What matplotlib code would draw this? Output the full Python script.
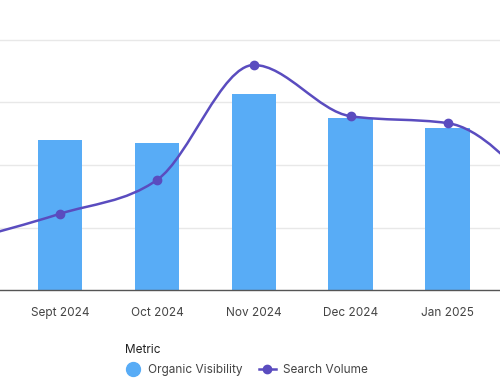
import numpy as np
import matplotlib.pyplot as plt
from matplotlib.path import Path
from matplotlib.patches import PathPatch
from matplotlib.lines import Line2D

plt.rcParams['font.family'] = ['Inter', 'DejaVu Sans']

# --- data (chart is a cropped view, Aug and Feb sit just off-screen) ---
months = ['Aug 2024', 'Sept 2024', 'Oct 2024', 'Nov 2024', 'Dec 2024', 'Jan 2025', 'Feb 2025']
organic_visibility = [2.2, 2.4, 2.35, 3.14, 2.75, 2.59, 2.3]
search_volume = [0.78, 1.22, 1.76, 3.6, 2.78, 2.67, 1.45]

bar_color = '#58acf6'
line_color = '#5a4cbf'


def monotone_path(x, y):
    # cubic bezier path with monotone tangents (like d3 curveMonotoneX)
    x = np.asarray(x, float)
    y = np.asarray(y, float)
    h = np.diff(x)
    s = np.diff(y) / h
    t = np.zeros(len(x))
    for i in range(1, len(x) - 1):
        p = (s[i - 1] * h[i] + s[i] * h[i - 1]) / (h[i - 1] + h[i])
        t[i] = (np.sign(s[i - 1]) + np.sign(s[i])) * min(abs(s[i - 1]), abs(s[i]), 0.5 * abs(p))
    t[0] = (3 * s[0] - t[1]) / 2
    t[-1] = (3 * s[-1] - t[-2]) / 2
    verts = [(x[0], y[0])]
    codes = [Path.MOVETO]
    for i in range(len(x) - 1):
        d = h[i] / 3
        verts += [(x[i] + d, y[i] + d * t[i]), (x[i + 1] - d, y[i + 1] - d * t[i + 1]), (x[i + 1], y[i + 1])]
        codes += [Path.CURVE4] * 3
    return Path(verts, codes)


fig = plt.figure(figsize=(5, 3.83), dpi=100)
ax = fig.add_axes([0, 93 / 383, 1, 290 / 383])

xs = np.arange(len(months))
ax.bar(xs, organic_visibility, width=0.46, color=bar_color, zorder=2)
ax.add_patch(PathPatch(monotone_path(xs, search_volume), facecolor='none',
                       edgecolor=line_color, linewidth=1.8, zorder=3))
ax.plot(xs, search_volume, 'o', color=line_color, markersize=6, zorder=4)

ax.set_xticks(xs)
ax.set_xticklabels(months)
ax.set_yticks([1, 2, 3, 4])
ax.set_xlim(0.38, 5.54)
ax.set_ylim(0, 4.64)
ax.grid(axis='y', color='#e8e8e8', linewidth=1, zorder=0)
ax.tick_params(axis='y', left=False, labelleft=False)
ax.tick_params(axis='x', length=0, pad=12, labelsize=8.5, labelcolor='#444444')
for side in ['top', 'right', 'left']:
    ax.spines[side].set_visible(False)
ax.spines['bottom'].set_color('#555555')
ax.spines['bottom'].set_linewidth(1)

handles = [
    Line2D([], [], marker='o', linestyle='none', color=bar_color, markersize=10),
    Line2D([], [], marker='o', color=line_color, markersize=6, linewidth=1.8),
]
leg = fig.legend(handles, ['Organic Visibility', 'Search Volume'], title='Metric',
                 loc='upper left', bbox_to_anchor=(0.249, 0.1015), ncol=2, frameon=False,
                 fontsize=8.5, title_fontsize=8.5, alignment='left', handlelength=1.4,
                 columnspacing=1.4, handletextpad=0.6, labelspacing=0.7,
                 borderpad=0, borderaxespad=0)
for t in leg.get_texts():
    t.set_color('#444444')
leg.get_title().set_color('#222222')

plt.savefig('out.png')
